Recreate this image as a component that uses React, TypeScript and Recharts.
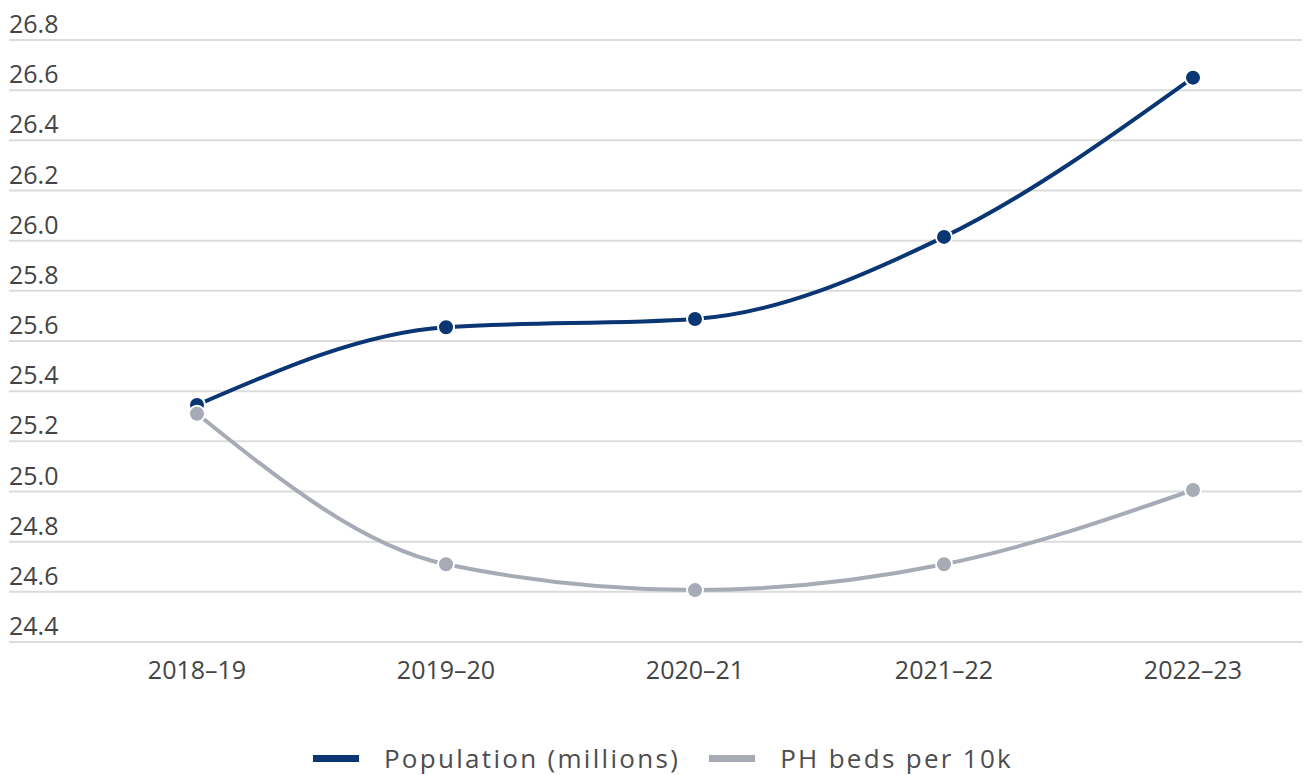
import React from 'react';
import { LineChart, Line, XAxis, YAxis, CartesianGrid, Legend } from 'recharts';

const YEARS = ['2018–19', '2019–20', '2020–21', '2021–22', '2022–23'];
const POPULATION = [25.345, 25.655, 25.688, 26.015, 26.65];
const PH_BEDS = [25.31, 24.71, 24.607, 24.71, 25.006];
const Y_TICKS = [24.4, 24.6, 24.8, 25.0, 25.2, 25.4, 25.6, 25.8, 26.0, 26.2, 26.4, 26.6, 26.8];

const NAVY = '#0a3674';
const GREY = '#a6abb6';
const TICK_FONT = '"Open Sans", sans-serif';

const SERIES = [
  { key: 'population', name: 'Population (millions)', color: NAVY },
  { key: 'beds', name: 'PH beds per 10k', color: GREY },
];

const data = YEARS.map((year, i) => ({
  year,
  population: POPULATION[i],
  beds: PH_BEDS[i],
}));

const YTick = (props: any) => {
  const { y, payload } = props;
  return (
    <text x={9} y={y - 7} textAnchor="start" fill="#444" fontSize={25} fontFamily={TICK_FONT}>
      {Number(payload.value).toFixed(1)}
    </text>
  );
};

const XTick = (props: any) => {
  const { x, y, payload } = props;
  return (
    <text x={x} y={y + 37} textAnchor="middle" fill="#444" fontSize={25} fontFamily={TICK_FONT}>
      {payload.value}
    </text>
  );
};

const LegendContent = () => (
  <div
    style={{
      display: 'flex',
      justifyContent: 'center',
      alignItems: 'flex-end',
      height: 73,
      paddingBottom: 2,
      paddingLeft: 8,
      boxSizing: 'border-box',
      fontFamily: TICK_FONT,
      fontSize: 26,
      lineHeight: '30px',
      letterSpacing: 2.3,
      color: '#4d4d4d',
    }}
  >
    {SERIES.map((s, i) => (
      <div key={s.key} style={{ display: 'flex', alignItems: 'center', marginLeft: i ? 29 : 0 }}>
        <span style={{ display: 'inline-block', width: 46, height: 7, background: s.color, marginRight: 25 }} />
        <span>{s.name}</span>
      </div>
    ))}
  </div>
);

export default function App() {
  return (
    <div style={{ margin: '-8px 0 0 -8px', width: 1310, height: 775 }}>
      <LineChart
        width={1310}
        height={775}
        data={data}
        margin={{ top: 40, right: 0, bottom: 0, left: 8 }}
      >
        <CartesianGrid vertical={false} stroke="#dcdcdc" strokeWidth={2} />
        <XAxis
          dataKey="year"
          axisLine={false}
          tickLine={false}
          tickSize={0}
          tickMargin={0}
          height={60}
          padding={{ left: 188, right: 117 }}
          tick={<XTick />}
        />
        <YAxis
          domain={[24.4, 26.8]}
          ticks={Y_TICKS}
          width={1}
          axisLine={false}
          tickLine={false}
          tickSize={0}
          tickMargin={0}
          tick={<YTick />}
          interval={0}
          allowDataOverflow
        />
        <Legend verticalAlign="bottom" height={73} content={<LegendContent />} />
        {SERIES.map((s) => (
          <Line
            key={s.key}
            type="monotone"
            dataKey={s.key}
            name={s.name}
            stroke={s.color}
            strokeWidth={4}
            dot={{ r: 8, fill: s.color, stroke: '#fff', strokeWidth: 2 }}
            isAnimationActive={false}
          />
        ))}
      </LineChart>
    </div>
  );
}
